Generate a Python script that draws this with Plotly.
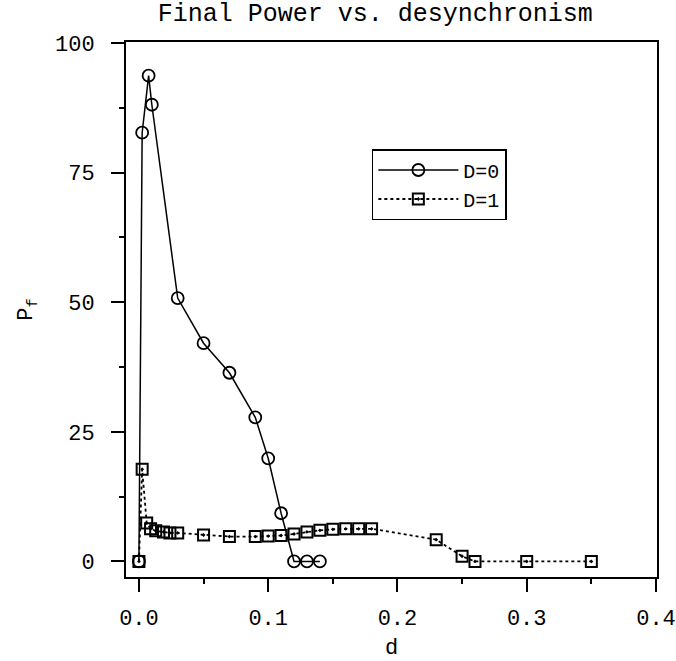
import plotly.graph_objects as go

# D=0 series (circles, solid)
d0_x = [0.0, 0.0025, 0.0075, 0.01, 0.03, 0.05, 0.07, 0.09, 0.10, 0.11, 0.12, 0.13, 0.14]
d0_y = [0.0, 82.7, 93.7, 88.1, 50.8, 42.1, 36.4, 27.8, 19.9, 9.3, 0.0, 0.0, 0.0]

# D=1 series (squares, dotted)
d1_x = [0.0, 0.0025, 0.006, 0.009, 0.013, 0.019, 0.024, 0.03, 0.05, 0.07, 0.09, 0.10,
        0.11, 0.12, 0.13, 0.14, 0.15, 0.16, 0.17, 0.18, 0.23, 0.25, 0.26, 0.30, 0.35]
d1_y = [0.0, 17.8, 7.4, 6.3, 5.9, 5.7, 5.5, 5.5, 5.1, 4.8, 4.8, 4.9,
        5.0, 5.3, 5.7, 6.0, 6.2, 6.3, 6.3, 6.3, 4.2, 1.0, 0.0, 0.0, 0.0]

x_ticks = [0.0, 0.1, 0.2, 0.3, 0.4]
x_ticklabels = ["0.0", "0.1", "0.2", "0.3", "0.4"]
y_ticks = [0, 25, 50, 75, 100]
y_ticklabels = ["0", "25", "50", "75", "100"]

FONT = "Courier New, Liberation Mono, monospace"

fig = go.Figure()
fig.add_trace(go.Scatter(
    x=d0_x, y=d0_y, name="D=0", mode="lines+markers",
    line=dict(color="black", width=1.5, dash="solid"),
    marker=dict(symbol="circle-open", size=12, color="black", line=dict(width=1.8)),
))
fig.add_trace(go.Scatter(
    x=d1_x, y=d1_y, name="D=1", mode="lines+markers",
    line=dict(color="black", width=1.8, dash="dot"),
    marker=dict(symbol="square-open-dot", size=11, color="black", line=dict(width=2)),
))

fig.update_layout(
    width=676, height=661,
    margin=dict(l=126, r=19, t=42, b=84, autoexpand=False),
    paper_bgcolor="white", plot_bgcolor="white",
    font=dict(family=FONT, size=22, color="black"),
    title=dict(text="Final Power vs. desynchronism", x=0.555, xanchor="center",
               y=1 - 12 / 661, yanchor="middle", yref="container",
               font=dict(family=FONT, size=25, color="black")),
    showlegend=True,
    legend=dict(x=0.463, y=0.80, xanchor="left", yanchor="top",
                bordercolor="black", borderwidth=1.5, bgcolor="white",
                font=dict(family=FONT, size=20, color="black"),
                tracegroupgap=0, itemwidth=80),
    xaxis=dict(
        range=[-0.01, 0.4008], tickmode="array", tickvals=x_ticks, ticktext=x_ticklabels,
        ticks="outside", ticklen=13, tickwidth=1.5, tickcolor="black",
        showline=True, linecolor="black", linewidth=2, mirror=True,
        showgrid=False, zeroline=False, ticklabelstandoff=7, automargin=False,
        minor=dict(dtick=0.05, tick0=0, ticks="outside", ticklen=5, tickwidth=1.5,
                   tickcolor="black", showgrid=False),
        title=dict(text="d", standoff=20, font=dict(family=FONT, size=22)),
    ),
    yaxis=dict(
        range=[-3, 100.2], tickmode="array", tickvals=y_ticks, ticktext=y_ticklabels,
        ticks="outside", ticklen=13, tickwidth=1.5, tickcolor="black",
        showline=True, linecolor="black", linewidth=2, mirror=True,
        showgrid=False, zeroline=False, ticklabelstandoff=12, automargin=False,
        minor=dict(dtick=12.5, tick0=0, ticks="outside", ticklen=5, tickwidth=1.5,
                   tickcolor="black", showgrid=False),
        title=dict(text="P<sub>f</sub>", standoff=16, font=dict(family=FONT, size=22)),
    ),
)

fig.write_html("out.html", config={"displayModeBar": False},
               post_script="document.body.style.margin='0px';")
